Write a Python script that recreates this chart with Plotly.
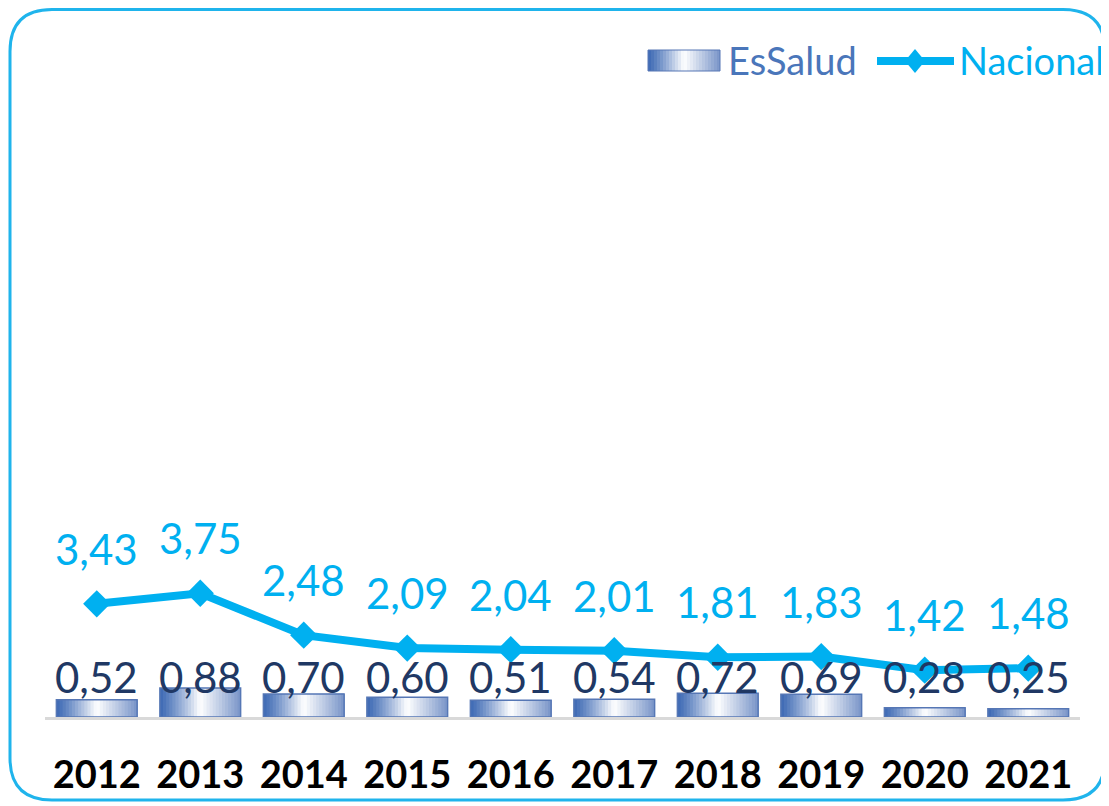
import plotly.graph_objects as go

years = ["2012", "2013", "2014", "2015", "2016", "2017", "2018", "2019", "2020", "2021"]
essalud = [0.52, 0.88, 0.70, 0.60, 0.51, 0.54, 0.72, 0.69, 0.28, 0.25]
nacional = [3.43, 3.75, 2.48, 2.09, 2.04, 2.01, 1.81, 1.83, 1.42, 1.48]

# page body has an 8px margin; work in reference pixel coords and shift
OFF = 8
W, H = 1109 - OFF, 806 - OFF
ML, MR, MT, MB = 45 - OFF, 29, 57 - OFF, 89
PW, PH = W - ML - MR, H - MT - MB
BASE_Y = 717  # reference pixel y of baseline

LINE_C = "#00B0F0"
BAR_LBL_C = "#203864"
LEG_BAR_C = "#4A76BA"
FONT = "Lato, 'Open Sans', sans-serif"


def px2paper(px, py):
    return (px - 45) / PW, (BASE_Y - py) / PH


def lerp(c1, c2, t):
    return tuple(int(round(a + (b - a) * t)) for a, b in zip(c1, c2))


def grad(t):
    dark = (62, 106, 180)
    white = (255, 255, 255)
    right = (120, 148, 200)
    if t < 0.5:
        c = lerp(dark, white, (t / 0.5) ** 1.2)
    else:
        c = lerp(white, right, (t - 0.5) / 0.5)
    return "rgb(%d,%d,%d)" % c


fig = go.Figure()

BW = 0.78
N = 26
sw = BW / N
for i in range(N):
    fig.add_trace(go.Bar(
        x=years, y=essalud, width=(BW - i * sw), offset=-BW / 2 + i * sw,
        marker=dict(color=grad((i + 0.5) / N), line=dict(width=0)),
        showlegend=False, hoverinfo="skip",
    ))
fig.add_trace(go.Bar(
    x=years, y=essalud, width=BW, offset=-BW / 2,
    marker=dict(color="rgba(0,0,0,0)", line=dict(color="#5677B5", width=1.5)),
    name="EsSalud", showlegend=False,
))

fig.add_trace(go.Scatter(
    x=years, y=nacional, mode="lines+markers", name="Nacional",
    line=dict(color=LINE_C, width=8),
    marker=dict(symbol="diamond", size=21, color=LINE_C),
    showlegend=False,
))

annotations = []
for i, v in enumerate(nacional):
    annotations.append(dict(
        x=i, y=v, xref="x", yref="y", yshift=55, showarrow=False,
        text=f"{v:.2f}".replace(".", ","), yanchor="middle",
        font=dict(family=FONT, size=42, color=LINE_C),
    ))
lbl_y = px2paper(0, 677)[1]
for i, v in enumerate(essalud):
    annotations.append(dict(
        x=i, y=lbl_y, xref="x", yref="paper", showarrow=False,
        text=f"{v:.2f}".replace(".", ","), yanchor="middle",
        font=dict(family=FONT, size=42, color=BAR_LBL_C),
    ))

# legend (manual)
shapes = []
lx0, lx1, ly0, ly1 = 648, 720, 50, 71
NL = 24
for i in range(NL):
    a = lx0 + (lx1 - lx0) * i / NL
    x0, y0 = px2paper(a, ly1)
    x1, y1 = px2paper(lx1, ly0)
    shapes.append(dict(type="rect", xref="paper", yref="paper", x0=x0, x1=x1, y0=y0, y1=y1,
                       fillcolor=grad((i + 0.5) / NL), line=dict(width=0), layer="above"))
x0, y0 = px2paper(lx0, ly1)
x1, y1 = px2paper(lx1, ly0)
shapes.append(dict(type="rect", xref="paper", yref="paper", x0=x0, x1=x1, y0=y0, y1=y1,
                   line=dict(color="#5677B5", width=1), layer="above"))
tx, ty = px2paper(726, 60)
annotations.append(dict(x=tx, y=ty, xref="paper", yref="paper", xanchor="left", yanchor="middle",
                        showarrow=False, text="EsSalud",
                        font=dict(family=FONT, size=38, color=LEG_BAR_C)))
a0, ay = px2paper(877, 61)
a1, _ = px2paper(954, 61)
shapes.append(dict(type="line", xref="paper", yref="paper", x0=a0, x1=a1, y0=ay, y1=ay,
                   line=dict(color=LINE_C, width=8), layer="above"))
cx, cy = px2paper(915, 61)
dx = 10 / PW
dy = 12 / PH
shapes.append(dict(type="path", xref="paper", yref="paper",
                   path=f"M {cx-dx},{cy} L {cx},{cy+dy} L {cx+dx},{cy} L {cx},{cy-dy} Z",
                   fillcolor=LINE_C, line=dict(width=0), layer="above"))
tx, ty = px2paper(957, 60)
annotations.append(dict(x=tx, y=ty, xref="paper", yref="paper", xanchor="left", yanchor="middle",
                        showarrow=False, text="Nacional",
                        font=dict(family=FONT, size=38, color=LINE_C)))

# rounded border
bl, bt = px2paper(10, 9.5)
br, bb = px2paper(1105, 800)
rx, ry = 42 / PW, 42 / PH
path = (f"M {bl+rx},{bt} L {br-rx},{bt} Q {br},{bt} {br},{bt-ry} "
        f"L {br},{bb+ry} Q {br},{bb} {br-rx},{bb} L {bl+rx},{bb} "
        f"Q {bl},{bb} {bl},{bb+ry} L {bl},{bt-ry} Q {bl},{bt} {bl+rx},{bt} Z")
shapes.append(dict(type="path", xref="paper", yref="paper", path=path,
                   line=dict(color="#1FB4EC", width=3), layer="below"))

fig.update_layout(
    width=W, height=H,
    margin=dict(l=ML, r=MR, t=MT, b=MB, autoexpand=False),
    paper_bgcolor="white", plot_bgcolor="white",
    barmode="overlay", showlegend=False,
    annotations=annotations, shapes=shapes,
    xaxis=dict(
        type="category", showgrid=False, zeroline=False, automargin=False,
        showline=True, linecolor="#D9D9D9", linewidth=3,
        ticks="outside", ticklen=22, tickcolor="rgba(0,0,0,0)",
        tickfont=dict(family=FONT, size=38, color="black", weight="bold"),
        range=[-0.5, 9.5],
    ),
    yaxis=dict(range=[0, 20], visible=False, showgrid=False, zeroline=False, automargin=False),
)

fig.write_html("out.html")
